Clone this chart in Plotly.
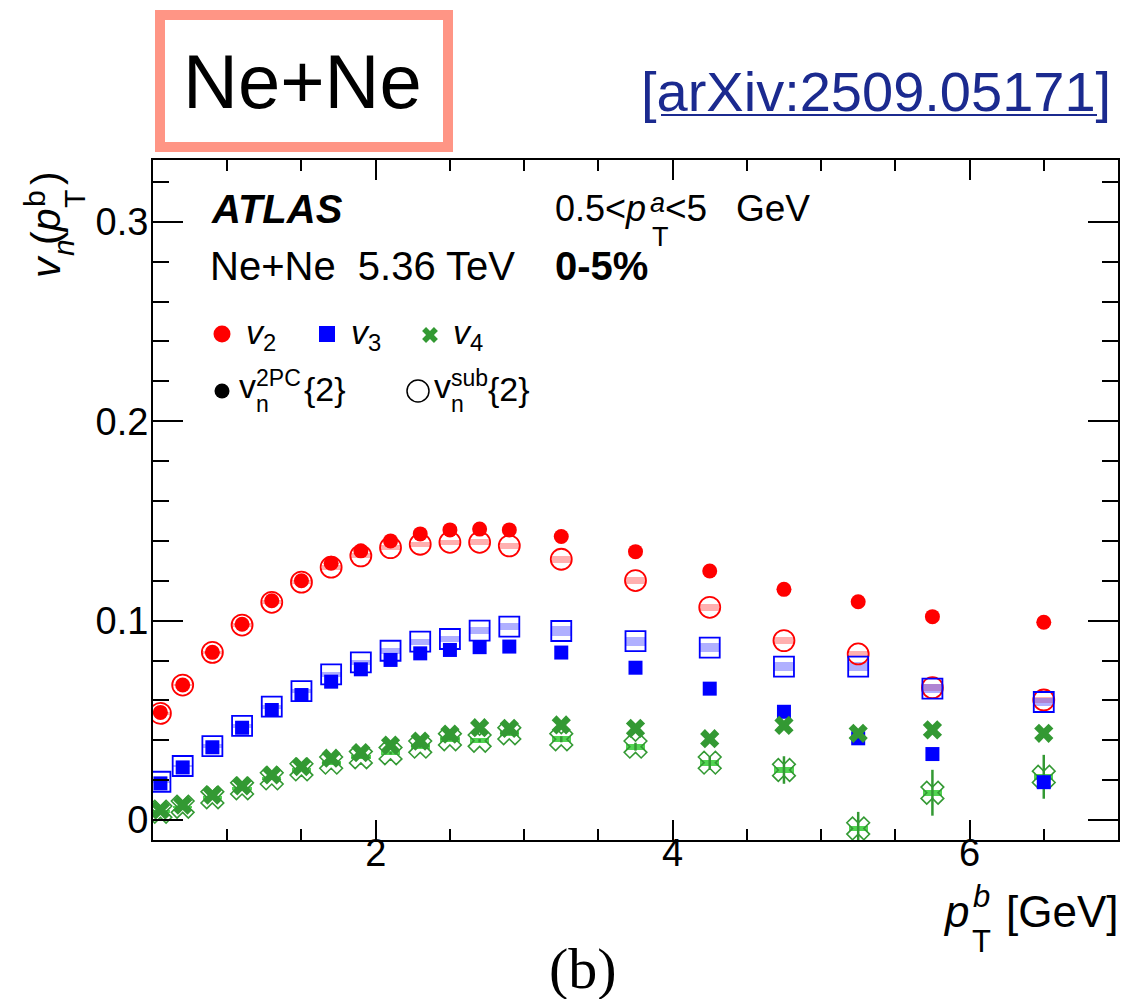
import plotly.graph_objects as go

# ---------------- data ----------------
pt = [0.55, 0.7, 0.9, 1.1, 1.3, 1.5, 1.7, 1.9, 2.1, 2.3, 2.5, 2.7, 2.9,
      3.25, 3.75, 4.25, 4.75, 5.25, 5.75, 6.5]

v2_2pc = [0.0540, 0.0677, 0.0841, 0.0982, 0.1100, 0.1200, 0.1288, 0.1350, 0.1400, 0.1435,
          0.1455, 0.1459, 0.1455, 0.1422, 0.1346, 0.1249, 0.1157, 0.1095, 0.1020, 0.0992]
v2_sub = [0.0535, 0.0677, 0.0841, 0.0978, 0.1092, 0.1193, 0.1268, 0.1325, 0.1366, 0.1383,
          0.1393, 0.1393, 0.1375, 0.1308, 0.1201, 0.1067, 0.0900, 0.0833, 0.0664, 0.0602]
v3_2pc = [0.0184, 0.0264, 0.0365, 0.0463, 0.0552, 0.0627, 0.0694, 0.0756, 0.0803, 0.0836,
          0.0853, 0.0867, 0.0870, 0.0840, 0.0764, 0.0659, 0.0543, 0.0410, 0.0331, 0.0190]
v3_sub = [0.0192, 0.0271, 0.0371, 0.0472, 0.0569, 0.0647, 0.0731, 0.0791, 0.0849, 0.0895,
          0.0908, 0.0950, 0.0970, 0.0948, 0.0897, 0.0865, 0.0769, 0.0769, 0.0659, 0.0592]
v4_2pc = [0.0050, 0.0075, 0.0125, 0.0171, 0.0226, 0.0268, 0.0310, 0.0338, 0.0376, 0.0396,
          0.0431, 0.0463, 0.0460, 0.0477, 0.0460, 0.0408, 0.0475, 0.0435, 0.0452, 0.0435]
v4_sub = [0.0042, 0.0067, 0.0114, 0.0159, 0.0209, 0.0254, 0.0288, 0.0315, 0.0335, 0.0368,
          0.0405, 0.0398, 0.0435, 0.0405, 0.0368, 0.0288, 0.0251, -0.0042, 0.0137, 0.0217]

# statistical uncertainties (visible only where larger than the markers)
v4_sub_stat = [0.0004, 0.0004, 0.0004, 0.0004, 0.0004, 0.0005, 0.0005, 0.0005, 0.0006, 0.0006,
               0.0007, 0.0008, 0.0009, 0.0015, 0.0020, 0.0030, 0.0069, 0.0083, 0.0115, 0.0110]
v4_2pc_stat = [0.0003, 0.0003, 0.0003, 0.0003, 0.0003, 0.0003, 0.0004, 0.0004, 0.0004, 0.0004,
               0.0005, 0.0005, 0.0006, 0.0008, 0.0010, 0.0012, 0.0015, 0.0018, 0.0022, 0.0022]

# systematic uncertainties of the subtracted results (half height of shaded band)
v2_sub_sys = [0.0006, 0.0007, 0.0008, 0.0009, 0.0010, 0.0011, 0.0012, 0.0012, 0.0013, 0.0013,
              0.0013, 0.0014, 0.0014, 0.0018, 0.0018, 0.0018, 0.0017, 0.0017, 0.0017, 0.0017]
v3_sub_sys = [0.0006, 0.0007, 0.0008, 0.0009, 0.0010, 0.0011, 0.0012, 0.0013, 0.0014, 0.0015,
              0.0016, 0.0017, 0.0017, 0.0023, 0.0023, 0.0023, 0.0022, 0.0022, 0.0022, 0.0022]
v4_sub_sys = [0.0006, 0.0006, 0.0007, 0.0008, 0.0008, 0.0009, 0.0010, 0.0010, 0.0011, 0.0011,
              0.0012, 0.0012, 0.0012, 0.0015, 0.0015, 0.0015, 0.0015, 0.0012, 0.0015, 0.0015]

x_ticks = [2, 4, 6]
y_ticks = [0, 0.1, 0.2, 0.3]
y_ticktext = ["0", "0.1", "0.2", "0.3"]

# ---------------- styling ----------------
RED = "#FF0000"
BLUE = "#0000FF"
GREEN = "#339933"
FONT = "Liberation Sans"

W, H = 1135, 999
PAGE = 8                           # default page (body) margin of the html page
L, R, T, B = 153, 1118, 160, 840   # plot-area pixel box as seen on screen


def px(x):
    return (x - L) / (R - L)


def py(y):
    return (B - y) / (B - T)


fig = go.Figure()


def sys_band(vals, sys, color):
    fig.add_trace(go.Bar(
        x=pt, y=[2 * s for s in sys], base=[v - s for v, s in zip(vals, sys)],
        width=0.13, marker=dict(color=color, line=dict(width=0)),
        showlegend=False, hoverinfo="skip"))


sys_band(v2_sub, v2_sub_sys, "rgba(255,80,80,0.45)")
sys_band(v3_sub, v3_sub_sys, "rgba(80,80,255,0.45)")
sys_band(v4_sub, v4_sub_sys, "rgba(50,205,50,0.85)")

# open markers (subtracted)
fig.add_trace(go.Scatter(x=pt, y=v2_sub, mode="markers",
                         marker=dict(symbol="circle-open", size=21, color=RED, line=dict(width=1.8))))
fig.add_trace(go.Scatter(x=pt, y=v3_sub, mode="markers",
                         marker=dict(symbol="square-open", size=20, color=BLUE, line=dict(width=1.8))))
fig.add_trace(go.Scatter(x=pt, y=v4_sub, mode="markers",
                         error_y=dict(type="data", array=v4_sub_stat, color=GREEN, thickness=2.5, width=0),
                         marker=dict(symbol="x-open", size=20, color=GREEN, line=dict(width=1.6))))
# filled markers (2PC)
fig.add_trace(go.Scatter(x=pt, y=v2_2pc, mode="markers",
                         marker=dict(symbol="circle", size=15, color=RED)))
fig.add_trace(go.Scatter(x=pt, y=v3_2pc, mode="markers",
                         marker=dict(symbol="square", size=14, color=BLUE)))
fig.add_trace(go.Scatter(x=pt, y=v4_2pc, mode="markers",
                         error_y=dict(type="data", array=v4_2pc_stat, color=GREEN, thickness=2.5, width=0),
                         marker=dict(symbol="x", size=17, color=GREEN, line=dict(width=0))))

# legend markers drawn on an overlay axis spanning the plot area (0..1)
leg_x = [px(222), px(327), px(430), px(222), px(418)]
leg_y = [py(334), py(334), py(335), py(391), py(391)]
leg_sym = ["circle", "square", "x", "circle", "circle-open"]
leg_col = [RED, BLUE, GREEN, "black", "black"]
leg_size = [17, 16, 14, 15, 22]
fig.add_trace(go.Scatter(x=leg_x, y=leg_y, xaxis="x2", yaxis="y2", mode="markers",
                         cliponaxis=False, hoverinfo="skip",
                         marker=dict(symbol=leg_sym, color=leg_col, size=leg_size, opacity=1,
                                     line=dict(width=[0, 0, 0, 0, 1.5], color=leg_col))))

fig.update_traces(selector=dict(type="scatter"), showlegend=False)

ann = []


def text(t, x, y, size, xanchor="left", yanchor="middle", family=FONT, color="black", angle=0):
    ann.append(dict(text=t, x=px(x), y=py(y), xref="paper", yref="paper",
                    xanchor=xanchor, yanchor=yanchor, showarrow=False, textangle=angle,
                    font=dict(family=family, size=size, color=color)))


# in-plot labels
text("<b><i>ATLAS</i></b>", 209, 209, 40)
text("0.5&lt;<i>p</i>", 553, 209, 36)
text("<i>a</i>", 648, 203, 27)
text("T", 650, 237, 27)
text("&lt;5", 663, 209, 37)
text("GeV", 734, 209, 37)
text("Ne+Ne\u00a0\u00a05.36 TeV", 208, 266, 40)
text("<b>0-5%</b>", 553, 266, 40)

# legend texts
text("<i>v</i><sub>2</sub>", 244, 334, 34)
text("<i>v</i><sub>3</sub>", 349, 334, 34)
text("<i>v</i><sub>4</sub>", 451, 334, 34)
text("v", 237, 386, 34)
text("2PC", 254, 378, 23)
text("n", 254, 404, 23)
text("{2}", 302, 389, 34)
text("v", 432, 386, 34)
text("sub", 449, 378, 23)
text("n", 449, 404, 23)
text("{2}", 486, 389, 34)

# x-axis title
text("<i>p</i>", 956, 911, 44, xanchor="center")
text("<i>b</i>", 981, 896, 31, xanchor="center")
text("T", 981, 941, 31, xanchor="center")
text("[GeV]", 1121, 911, 44, xanchor="right")

# y-axis title (rotated)
text("<i>v</i>", 46, 267, 41, xanchor="center", yanchor="middle", angle=-90)
text("<i>n</i>", 63, 248, 30, xanchor="center", yanchor="middle", angle=-90)
text("(<i>p</i>", 46, 227, 41, xanchor="center", yanchor="middle", angle=-90)
text("b", 34, 199, 30, xanchor="center", yanchor="middle", angle=-90)
text("T", 74, 199, 30, xanchor="center", yanchor="middle", angle=-90)
text(")", 46, 178, 41, xanchor="center", yanchor="middle", angle=-90)

# header
text("Ne+Ne", 302, 82, 76, xanchor="center")
text("[arXiv:2509.05171]", 1113, 92, 56, xanchor="right", color="#1B2A8F")
text("(b)", 583, 968, 58, xanchor="center", family="Liberation Serif")

shapes = [
    dict(type="rect", xref="paper", yref="paper", x0=px(160), x1=px(448), y0=py(15), y1=py(147),
         line=dict(color="#FF9585", width=10)),
    dict(type="line", xref="paper", yref="paper", x0=px(661), x1=px(1097), y0=py(115), y1=py(115),
         line=dict(color="#1B2A8F", width=2)),
]

axis_common = dict(showline=True, linecolor="black", linewidth=2, mirror="ticks", automargin=False,
                   ticks="inside", tickcolor="black", tickwidth=2, showgrid=False, zeroline=False,
                   tickfont=dict(family=FONT, size=38, color="black"))

fig.update_layout(
    width=W, height=H,
    margin=dict(l=L - PAGE, r=W - (R - PAGE), t=T - PAGE, b=H - (B - PAGE), pad=0, autoexpand=False),
    paper_bgcolor="white", plot_bgcolor="white",
    font=dict(family=FONT, color="black"),
    barmode="overlay", bargap=0,
    showlegend=False,
    xaxis=dict(range=[0.5, 7.0], tickvals=x_ticks, ticklen=20, ticklabelstandoff=-22,
               minor=dict(ticks="inside", dtick=0.5, tick0=0, ticklen=11, tickwidth=2, tickcolor="black"),
               **axis_common),
    yaxis=dict(range=[-0.01, 0.331], tickvals=y_ticks, ticktext=y_ticktext, ticklen=30,
               ticklabelstandoff=-5,
               minor=dict(ticks="inside", dtick=0.02, tick0=0, ticklen=16, tickwidth=2, tickcolor="black"),
               **axis_common),
    xaxis2=dict(overlaying="x", anchor="y2", range=[0, 1], visible=False, automargin=False),
    yaxis2=dict(overlaying="y", anchor="x2", range=[0, 1], visible=False, automargin=False),
    annotations=ann,
    shapes=shapes,
)

fig.write_html("out.html")
